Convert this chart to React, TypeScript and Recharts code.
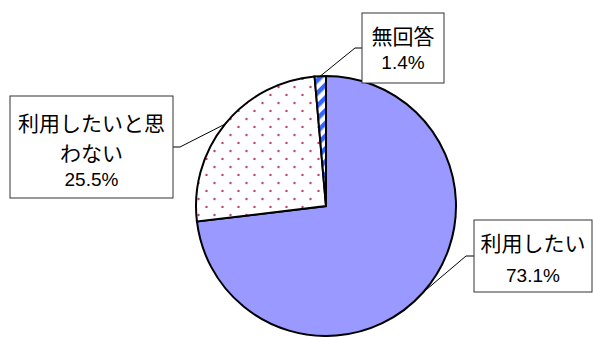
import { PieChart, Pie, Cell } from "recharts";

const categories = ["利用したい", "利用したいと思わない", "無回答"];
const shares = [73.1, 25.5, 1.4];

const data = categories.map((name, i) => ({ name, value: shares[i] }));

const fills = ["#9999FF", "url(#dotFill)", "url(#stripeFill)"];

// label box placement (x, y, w, h), elbow of the leader line, chars per line
const boxes = [
  { x: 474, y: 220, w: 118, h: 72, ex: 466, ey: 256, wrap: 7, lines: [242, 275] },
  { x: 10, y: 96, w: 163, h: 102, ex: 180, ey: 147, wrap: 7, lines: [122, 152, 179] },
  { x: 362, y: 13, w: 82, h: 70, ex: 355, ey: 48, wrap: 7, lines: [35, 62] },
];

const RADIAN = Math.PI / 180;

function wrapText(s: string, n: number) {
  const out: string[] = [];
  for (let i = 0; i < s.length; i += n) out.push(s.slice(i, i + n));
  return out;
}

const renderLabel = (props: any) => {
  const { cx, cy, midAngle, outerRadius, index } = props;
  const b = boxes[index];
  const px = cx + outerRadius * Math.cos(-midAngle * RADIAN);
  const py = cy + outerRadius * Math.sin(-midAngle * RADIAN);
  const nameLines = wrapText(categories[index], b.wrap);
  const midX = b.x + b.w / 2;
  const bx = b.ex < b.x ? b.x : b.x + b.w;
  return (
    <g key={"lbl" + index}>
      <polyline
        points={`${px},${py} ${b.ex},${b.ey} ${bx},${b.ey}`}
        fill="none"
        stroke="#000"
        strokeWidth={1}
      />
      <rect x={b.x} y={b.y} width={b.w} height={b.h} fill="#fff" stroke="#333" strokeWidth={1} />
      {nameLines.map((t, k) => (
        <text
          key={k}
          x={midX}
          y={b.lines[k]}
          textAnchor="middle"
          dominantBaseline="central"
          fontFamily="'Noto Sans CJK JP', sans-serif"
          fontSize={21}
          fill="#000"
        >
          {t}
        </text>
      ))}
      <text
        x={midX}
        y={b.lines[nameLines.length]}
        textAnchor="middle"
        dominantBaseline="central"
        fontFamily="'Liberation Sans', Arial, sans-serif"
        fontSize={19}
        fill="#000"
      >
        {shares[index]}%
      </text>
    </g>
  );
};

export default function App() {
  return (
    <div style={{ position: "absolute", left: 0, top: 0, width: 593, height: 337, background: "#fff" }}>
      <PieChart width={593} height={337} margin={{ top: 0, right: 0, bottom: 0, left: 0 }}>
        <defs>
          <pattern id="dotFill" patternUnits="userSpaceOnUse" width={16} height={16}>
            <rect width={16} height={16} fill="#fff" />
            <circle cx={6.5} cy={7} r={1.2} fill="#B8407F" />
            <circle cx={14.5} cy={15} r={1.2} fill="#B8407F" />
          </pattern>
          <pattern
            id="stripeFill"
            patternUnits="userSpaceOnUse"
            width={9}
            height={9}
            patternTransform="rotate(45)"
          >
            <rect width={9} height={9} fill="#fff" />
            <rect width={4.5} height={9} fill="#3366FF" />
          </pattern>
        </defs>
        <Pie
          data={data}
          dataKey="value"
          nameKey="name"
          cx={326}
          cy={206}
          outerRadius={130}
          startAngle={90}
          endAngle={-270}
          stroke="#000"
          strokeWidth={2}
          label={renderLabel}
          labelLine={false}
          isAnimationActive={false}
        >
          {data.map((d, i) => (
            <Cell key={d.name} fill={fills[i]} />
          ))}
        </Pie>
      </PieChart>
    </div>
  );
}
